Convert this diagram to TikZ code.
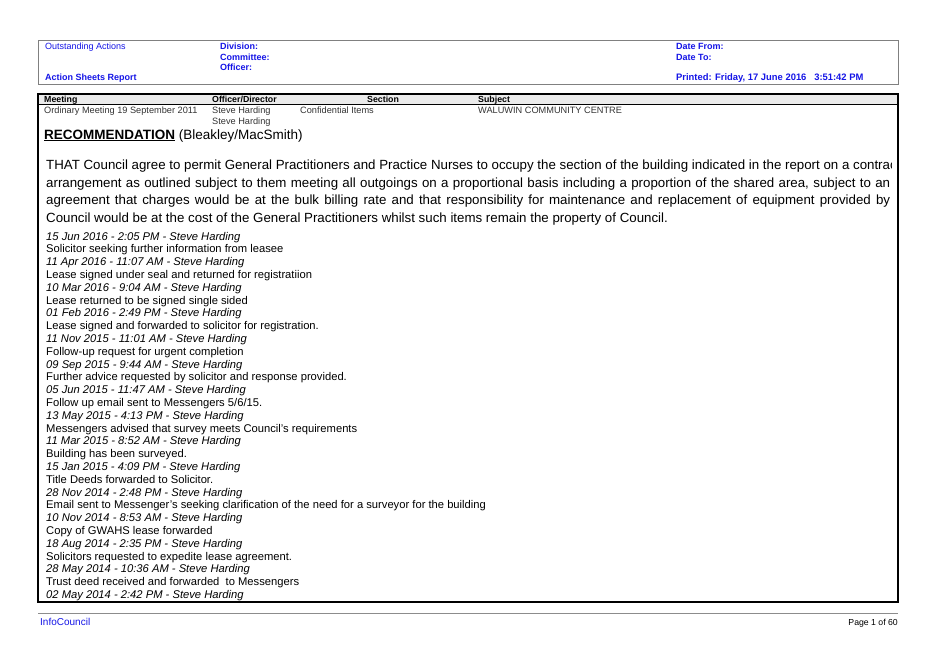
\documentclass[tikz,border=0pt]{standalone}
\usepackage{fontspec}
\setmainfont{Liberation Sans}
\definecolor{headblue}{RGB}{20,20,230}
\tikzset{
  hdr/.style={anchor=base west,inner sep=0pt,text=headblue,font=\fontsize{9}{10}\selectfont},
  hdrb/.style={hdr,font=\fontsize{9}{10}\selectfont\bfseries},
  colhd/.style={anchor=base west,inner sep=0pt,font=\fontsize{8.8}{9}\selectfont\bfseries},
  cell/.style={anchor=base west,inner sep=0pt,text=black!80,font=\fontsize{9.2}{10}\selectfont},
  logdate/.style={anchor=base west,inner sep=0pt,font=\fontsize{11.2}{12}\selectfont\itshape},
  logtext/.style={anchor=base west,inner sep=0pt,font=\fontsize{11.2}{12}\selectfont},
  para/.style={anchor=base west,inner sep=0pt,font=\fontsize{13.3}{15}\selectfont}
}
\begin{document}
\begin{tikzpicture}[x=1pt,y=-1pt]
\useasboundingbox (0,0) rectangle (939,664);

% header box
\draw[black!50,line width=1pt] (38,40) rectangle (898,84);
\node[hdr] (outst) at (45,49) {Outstanding Actions};
\node[hdrb] (asr) at (45,80) {Action Sheets Report};
\node[hdrb] (div) at (220,49) {Division:};
\node[hdrb] (com) at (220,60) {Committee:};
\node[hdrb] (off) at (220,70) {Officer:};
\node[hdrb] (dfrom) at (676,49) {Date From:};
\node[hdrb] (dto) at (676,60) {Date To:};
\node[hdr,font=\fontsize{9.4}{10}\selectfont] (prn) at (676,80) {\textbf{Printed:} \textbf{Friday, 17 June 2016\ \ \ 3:51:42 PM}};

% table
\draw[fill=black!8,line width=0.8pt] (38,94) rectangle (898,104);
\draw[line width=1.2pt] (38,94) rectangle (898,602);
\node[colhd] (hmeet) at (44,102.5) {Meeting};
\node[colhd] (hoff) at (212,102.5) {Officer/Director};
\node[colhd] (hsec) at (367,102.5) {Section};
\node[colhd] (hsub) at (478,102.5) {Subject};
\node[cell] (meet) at (44,113) {Ordinary Meeting 19 September 2011};
\node[cell] (off1) at (212,113) {Steve Harding};
\node[cell] (off2) at (212,124) {Steve Harding};
\node[cell] (sec) at (300,113) {Confidential Items};
\node[cell] (sub) at (478,113) {WALUWIN COMMUNITY CENTRE};
\node[anchor=base west,inner sep=0pt,font=\fontsize{13.5}{15}\selectfont] (rec) at (44,139)
  {\underline{\textbf{RECOMMENDATION}} (Bleakley/MacSmith)};

% recommendation paragraph
\begin{scope}
\clip (38,150) rectangle (891,230);
\node[para] (p1) at (46,169) {THAT Council agree to permit General Practitioners and Practice Nurses to occupy the section of the building indicated in the report on a contract};
\end{scope}
\node[para] (p2) at (46,187) {\makebox[844pt][s]{arrangement as outlined subject to them meeting all outgoings on a proportional basis including a proportion of the shared area, subject to an}};
\node[para] (p3) at (46,204.5) {\makebox[844pt][s]{agreement that charges would be at the bulk billing rate and that responsibility for maintenance and replacement of equipment provided by}};
\node[para] (p4) at (46,222) {Council would be at the cost of the General Practitioners whilst such items remain the property of Council.};

% action log
\foreach \txt [count=\i] in {
  15 Jun 2016 - 2:05 PM - Steve Harding,
  11 Apr 2016 - 11:07 AM - Steve Harding,
  10 Mar 2016 - 9:04 AM - Steve Harding,
  01 Feb 2016 - 2:49 PM - Steve Harding,
  11 Nov 2015 - 11:01 AM - Steve Harding,
  09 Sep 2015 - 9:44 AM - Steve Harding,
  05 Jun 2015 - 11:47 AM - Steve Harding,
  13 May 2015 - 4:13 PM - Steve Harding,
  11 Mar 2015 - 8:52 AM - Steve Harding,
  15 Jan 2015 - 4:09 PM - Steve Harding,
  28 Nov 2014 - 2:48 PM - Steve Harding,
  10 Nov 2014 - 8:53 AM - Steve Harding,
  18 Aug 2014 - 2:35 PM - Steve Harding,
  28 May 2014 - 10:36 AM - Steve Harding,
  02 May 2014 - 2:42 PM - Steve Harding}
  \node[logdate] (date\i) at (46,{240+(\i-1)*25.6}) {\txt};
\foreach \txt [count=\i] in {
  Solicitor seeking further information from leasee,
  Lease signed under seal and returned for registratiion,
  Lease returned to be signed single sided,
  Lease signed and forwarded to solicitor for registration.,
  Follow-up request for urgent completion,
  Further advice requested by solicitor and response provided.,
  Follow up email sent to Messengers 5/6/15.,
  Messengers advised that survey meets Council's requirements,
  Building has been surveyed.,
  Title Deeds forwarded to Solicitor.,
  Email sent to Messenger's seeking clarification of the need for a surveyor for the building,
  Copy of GWAHS lease forwarded,
  Solicitors requested to expedite lease agreement.,
  Trust deed received and forwarded\ \ to Messengers}
  \node[logtext] (note\i) at (46,{252.8+(\i-1)*25.6}) {\txt};

% footer
\draw[black!45,line width=0.8pt] (38,613) -- (898,613);
\node[hdr,font=\fontsize{10}{11}\selectfont] (info) at (40,625) {InfoCouncil};
\node[anchor=base east,inner sep=0pt,font=\fontsize{8.7}{9}\selectfont] (page) at (898,625) {Page 1 of 60};
\end{tikzpicture}
\end{document}
